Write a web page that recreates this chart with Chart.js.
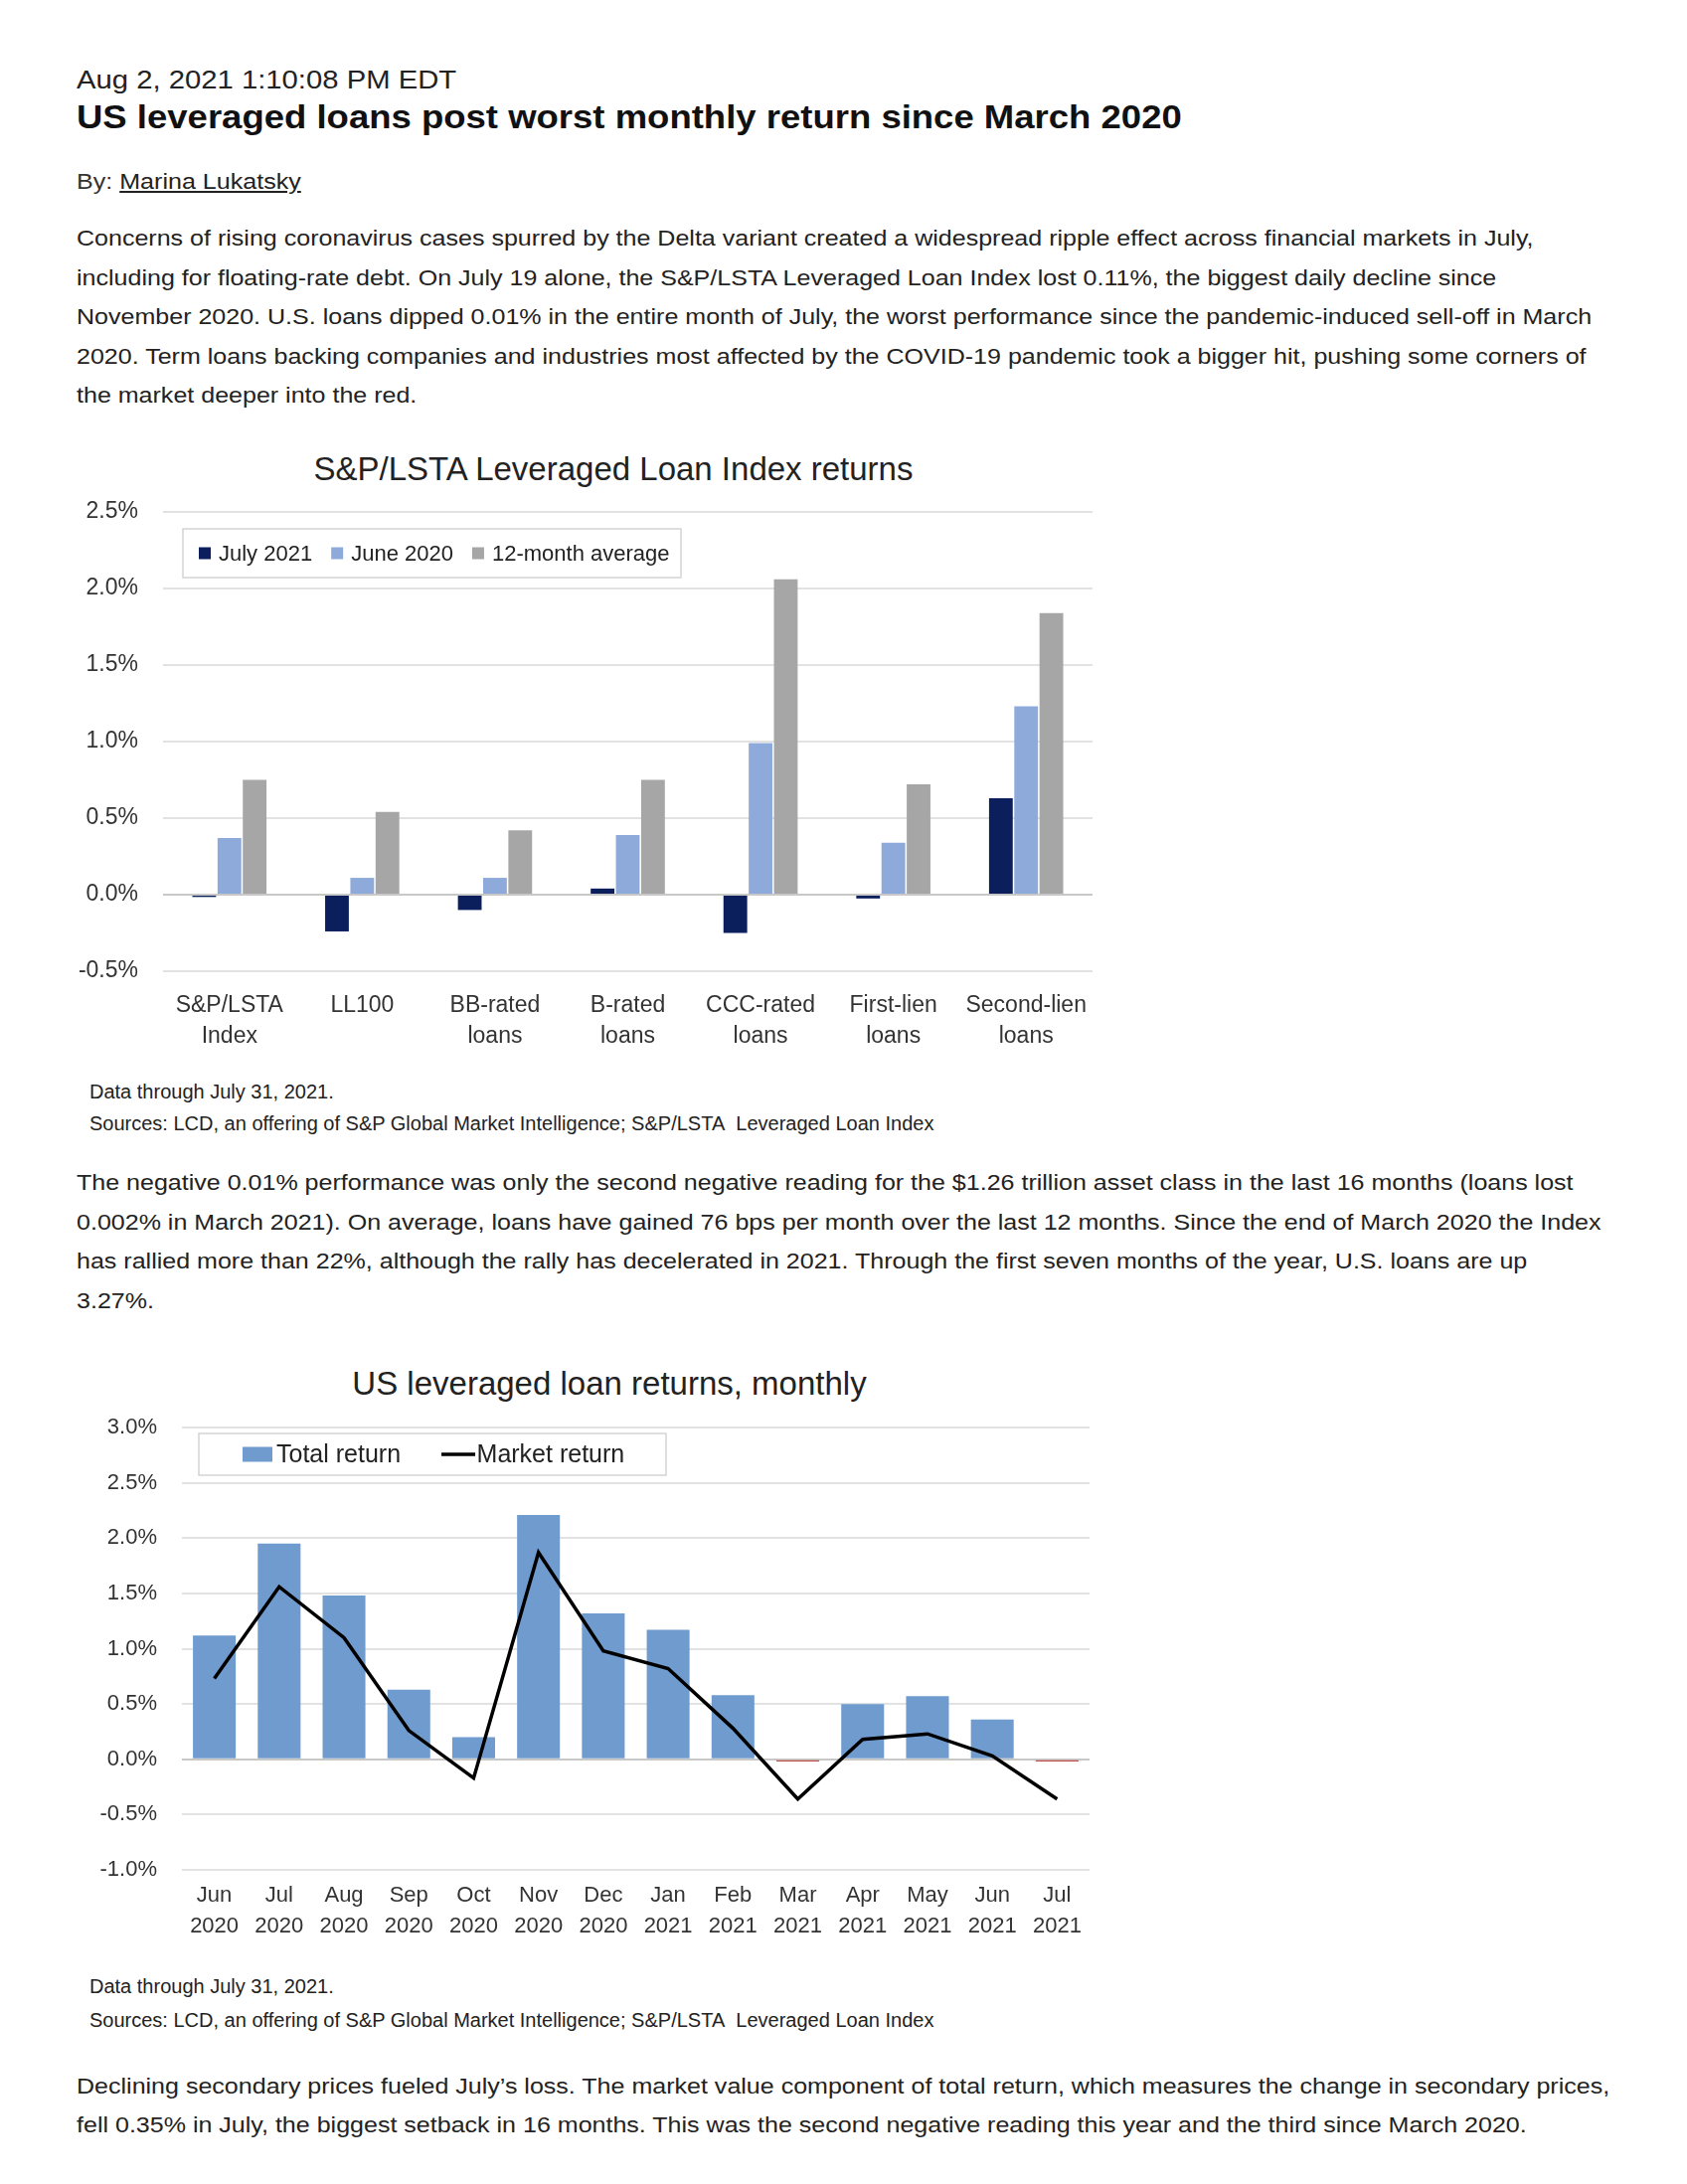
<!DOCTYPE html>
<html>
<head>
<meta charset="utf-8">
<script src="https://cdn.jsdelivr.net/npm/chart.js@4.4.1/dist/chart.umd.min.js"></script>
<style>
	html, body { margin: 0; padding: 0; background: #fff; }
	body { width: 1697px; height: 2197px; position: relative; overflow: hidden; font-family: "Liberation Sans", Arial, sans-serif; color: #1e1e1e; }
	.txt { position: absolute; left: 77px; white-space: nowrap; transform-origin: 0 0; transform: scaleX(1.1); }
	.date { top: 64px; font-size: 26.6px; line-height: 32px; color: #222; }
	.head { top: 98px; font-size: 33.2px; line-height: 40px; font-weight: bold; color: #111; }
	.by { top: 168px; font-size: 22.8px; line-height: 28px; color: #333; }
	.by a { color: #222; text-decoration: underline; }
	.para { font-size: 22.1px; line-height: 39.5px; color: #222; transform: scaleX(1.133); }
	.note { position: absolute; left: 90px; white-space: nowrap; font-size: 20px; line-height: 26px; color: #222; }
	.box { position: absolute; left: 60px; width: 1050px; }
	.ctitle { position: absolute; width: 1000px; text-align: center; font-size: 33px; line-height: 40px; color: #222; white-space: nowrap; }
</style>
</head>
<body>
<div class="txt date">Aug 2, 2021 1:10:08 PM EDT</div>
<div class="txt head">US leveraged loans post worst monthly return since March 2020</div>
<div class="txt by">By: <a>Marina Lukatsky</a></div>
<div class="txt para" style="top:220px">Concerns of rising coronavirus cases spurred by the Delta variant created a widespread ripple effect across financial markets in July,<br>including for floating-rate debt. On July 19 alone, the S&amp;P/LSTA Leveraged Loan Index lost 0.11%, the biggest daily decline since<br>November 2020. U.S. loans dipped 0.01% in the entire month of July, the worst performance since the pandemic-induced sell-off in March<br>2020. Term loans backing companies and industries most affected by the COVID-19 pandemic took a bigger hit, pushing some corners of<br>the market deeper into the red.</div>

<div class="ctitle" style="left:117px;top:452px">S&amp;P/LSTA Leveraged Loan Index returns</div>
<div class="box" style="top:440px;height:630px"><canvas id="chartbars"></canvas></div>
<div class="note" style="top:1085px">Data through July 31, 2021.</div>
<div class="note" style="top:1117px">Sources: LCD, an offering of S&amp;P Global Market Intelligence; S&amp;P/LSTA&nbsp; Leveraged Loan Index</div>

<div class="txt para" style="top:1170px">The negative 0.01% performance was only the second negative reading for the $1.26 trillion asset class in the last 16 months (loans lost<br>0.002% in March 2021). On average, loans have gained 76 bps per month over the last 12 months. Since the end of March 2020 the Index<br>has rallied more than 22%, although the rally has decelerated in 2021. Through the first seven months of the year, U.S. loans are up<br>3.27%.</div>

<div class="ctitle" style="left:113px;top:1372px">US leveraged loan returns, monthly</div>
<div class="box" style="top:1350px;height:620px"><canvas id="chartmonthly"></canvas></div>
<div class="note" style="top:1985px">Data through July 31, 2021.</div>
<div class="note" style="top:2019px">Sources: LCD, an offering of S&amp;P Global Market Intelligence; S&amp;P/LSTA&nbsp; Leveraged Loan Index</div>

<div class="txt para" style="top:2080px;line-height:38.5px">Declining secondary prices fueled July’s loss. The market value component of total return, which measures the change in secondary prices,<br>fell 0.35% in July, the biggest setback in 16 months. This was the second negative reading this year and the third since March 2020.</div>

<script>
// chart 1 : index returns by segment (%)
var segments = [["S&P/LSTA", "Index"], "LL100", ["BB-rated", "loans"], ["B-rated", "loans"], ["CCC-rated", "loans"], ["First-lien", "loans"], ["Second-lien", "loans"]];
var july2021 = [-0.015, -0.24, -0.10, 0.04, -0.25, -0.025, 0.63];
var june2020 = [0.37, 0.11, 0.11, 0.39, 0.99, 0.34, 1.23];
var avg12m = [0.75, 0.54, 0.42, 0.75, 2.06, 0.72, 1.84];

// chart 2 : monthly returns (%)
var months = [["Jun", "2020"], ["Jul", "2020"], ["Aug", "2020"], ["Sep", "2020"], ["Oct", "2020"], ["Nov", "2020"], ["Dec", "2020"],
	["Jan", "2021"], ["Feb", "2021"], ["Mar", "2021"], ["Apr", "2021"], ["May", "2021"], ["Jun", "2021"], ["Jul", "2021"]];
var totalReturn = [1.12, 1.95, 1.48, 0.63, 0.20, 2.21, 1.32, 1.17, 0.58, -0.02, 0.50, 0.57, 0.36, -0.02];
var marketReturn = [0.73, 1.56, 1.10, 0.26, -0.17, 1.87, 0.98, 0.82, 0.28, -0.36, 0.18, 0.23, 0.03, -0.36];

Chart.defaults.font.family = "'Liberation Sans', Arial, sans-serif";
Chart.defaults.color = "#333";

function pct(v) {
	return v.toFixed(1) + "%";
}

// legend drawn as a framed box inside the plot area
function boxLegend(o) {
	return {
		id: "boxLegend",
		afterDraw: function (chart) {
			var ctx = chart.ctx;
			var a = chart.chartArea;
			var x0 = a.left + o.dx, y0 = a.top + o.dy;
			ctx.save();
			ctx.fillStyle = "#fff";
			ctx.fillRect(x0, y0, o.w, o.h);
			ctx.strokeStyle = "#d4d4d4";
			ctx.lineWidth = 1.5;
			ctx.strokeRect(x0, y0, o.w, o.h);
			ctx.font = o.font;
			ctx.textBaseline = "middle";
			var cy = y0 + o.h / 2;
			var x = x0 + o.pad;
			chart.data.datasets.forEach(function (ds, i) {
				var m = o.marks[i];
				if (m.line) {
					ctx.strokeStyle = ds.borderColor;
					ctx.lineWidth = m.h;
					ctx.beginPath();
					ctx.moveTo(x, cy);
					ctx.lineTo(x + m.w, cy);
					ctx.stroke();
				} else {
					ctx.fillStyle = Array.isArray(ds.backgroundColor) ? ds.backgroundColor[0] : ds.backgroundColor;
					ctx.fillRect(x, cy - m.h / 2, m.w, m.h);
				}
				x += m.w + m.gap;
				ctx.fillStyle = "#222";
				ctx.fillText(ds.label, x, cy + 1);
				x += ctx.measureText(ds.label).width + o.space;
			});
			ctx.restore();
		}
	};
}

function yScale(min, max, size, width) {
	return {
		min: min,
		max: max,
		border: { display: false },
		grid: {
			drawTicks: false,
			lineWidth: 2,
			color: function (c) { return c.tick && c.tick.value === 0 ? "#c8c8c8" : "#e2e2e2"; }
		},
		ticks: { stepSize: 0.5, padding: 25, font: { size: size }, color: "#333", callback: pct },
		afterFit: function (s) { s.width = width; }
	};
}

function CreateBarChart() {
	var ctx = document.getElementById("chartbars").getContext("2d");
	window.chartbars = new Chart(ctx, {
		type: "bar",
		data: {
			labels: segments,
			datasets: [
				{ label: "July 2021", data: july2021, backgroundColor: "#0b1f5c" },
				{ label: "June 2020", data: june2020, backgroundColor: "#8eaadb" },
				{ label: "12-month average", data: avg12m, backgroundColor: "#a6a6a6" }
			]
		},
		options: {
			responsive: true,
			maintainAspectRatio: false,
			animation: false,
			layout: { padding: { left: 0, right: 11, top: 75, bottom: 0 } },
			datasets: { bar: { categoryPercentage: 0.57, barPercentage: 0.94 } },
			plugins: {
				legend: { display: false },
				tooltip: { enabled: false },
				title: { display: false }
			},
			scales: {
				x: {
					border: { display: false },
					grid: { display: false },
					ticks: { padding: 11, font: { size: 23, lineHeight: 1.35 }, color: "#333" },
					afterFit: function (s) { s.height = 93; }
				},
				y: yScale(-0.5, 2.5, 23, 104)
			}
		},
		plugins: [boxLegend({
			dx: 20, dy: 17, w: 501, h: 49, pad: 16, space: 19, font: "22px 'Liberation Sans', Arial, sans-serif",
			marks: [{ w: 12, h: 12, gap: 8 }, { w: 12, h: 12, gap: 8 }, { w: 12, h: 12, gap: 8 }]
		})]
	});
}

function CreateMonthlyChart() {
	var colors = [];
	for (var i = 0; i < totalReturn.length; i++) {
		colors.push(totalReturn[i] < 0 ? "#c0504d" : "#6f9bcf");
	}
	var ctx = document.getElementById("chartmonthly").getContext("2d");
	window.chartmonthly = new Chart(ctx, {
		type: "bar",
		data: {
			labels: months,
			datasets: [
				{ type: "bar", label: "Total return", data: totalReturn, backgroundColor: colors, order: 1 },
				{ type: "line", label: "Market return", data: marketReturn, borderColor: "#000", borderWidth: 3.5, pointRadius: 0, tension: 0, fill: false, order: 0 }
			]
		},
		options: {
			responsive: true,
			maintainAspectRatio: false,
			animation: false,
			layout: { padding: { left: 0, right: 14, top: 86, bottom: 0 } },
			datasets: { bar: { categoryPercentage: 0.66, barPercentage: 1.0 } },
			plugins: {
				legend: { display: false },
				tooltip: { enabled: false },
				title: { display: false }
			},
			scales: {
				x: {
					border: { display: false },
					grid: { display: false },
					ticks: { padding: 2.5, font: { size: 22, lineHeight: 1.41 }, color: "#333" },
					afterFit: function (s) { s.height = 89; }
				},
				y: yScale(-1, 3, 22, 123)
			}
		},
		plugins: [boxLegend({
			dx: 17, dy: 6, w: 470, h: 42, pad: 44, space: 41, font: "25px 'Liberation Sans', Arial, sans-serif",
			marks: [{ w: 30, h: 15, gap: 4 }, { w: 34, h: 3.5, gap: 1.5, line: true }]
		})]
	});
}

CreateBarChart();
CreateMonthlyChart();
</script>
</body>
</html>
